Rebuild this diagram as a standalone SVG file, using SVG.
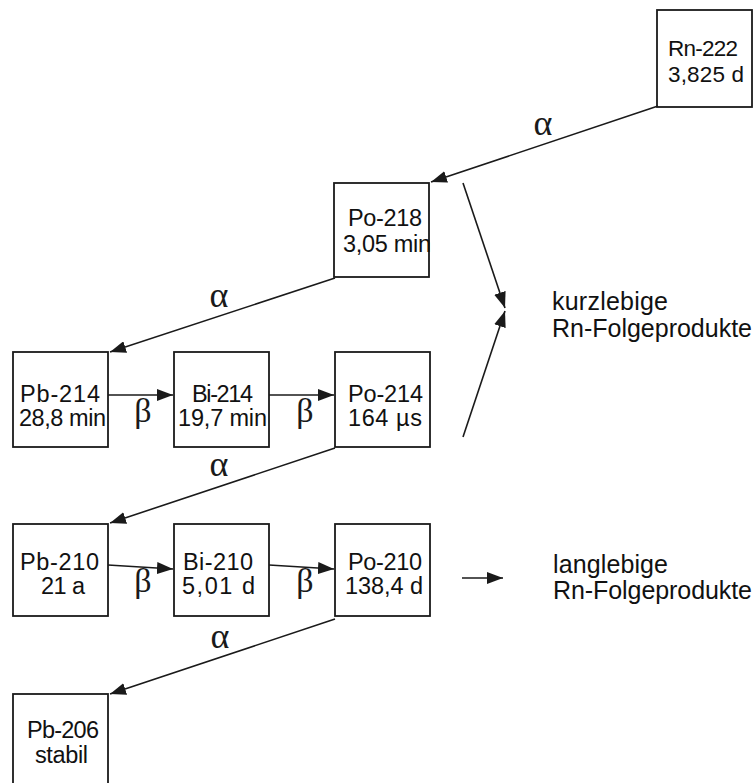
<svg xmlns="http://www.w3.org/2000/svg" width="755" height="783" viewBox="0 0 755 783">
<style>
.box{fill:none;stroke:#1a1a1a;stroke-width:1.8}
.t{font-family:"Liberation Sans",Arial,sans-serif;font-size:23.5px;fill:#111111}
.r{font-family:"Liberation Sans",Arial,sans-serif;font-size:25px;fill:#111111}
.s{font-size:22.5px}
.ga{font-family:"Liberation Serif","Times New Roman",serif;font-size:36px;fill:#1a1a1a}
.gb{font-family:"Liberation Serif","Times New Roman",serif;font-size:34px;fill:#1a1a1a}
.ln{stroke:#1a1a1a;stroke-width:1.6;fill:none}
</style>
<defs>
<marker id="ah" viewBox="0 0 16 12" refX="16" refY="6" markerWidth="16" markerHeight="12" markerUnits="userSpaceOnUse" orient="auto">
<path d="M0,0 L16,6 L0,12 z" fill="#1a1a1a"/>
</marker>
</defs>
<rect width="755" height="783" fill="#ffffff"/>

<g id="connectors">
<line class="ln" x1="658" y1="106" x2="431" y2="182" marker-end="url(#ah)"/>
<line class="ln" x1="335" y1="278" x2="110" y2="352" marker-end="url(#ah)"/>
<line class="ln" x1="335" y1="448" x2="110" y2="523" marker-end="url(#ah)"/>
<line class="ln" x1="335" y1="619" x2="110" y2="694" marker-end="url(#ah)"/>
<line class="ln" x1="108" y1="395" x2="173" y2="395" marker-end="url(#ah)"/>
<line class="ln" x1="269" y1="395" x2="334" y2="395" marker-end="url(#ah)"/>
<line class="ln" x1="108" y1="565" x2="173" y2="569" marker-end="url(#ah)"/>
<line class="ln" x1="269" y1="565" x2="334" y2="569" marker-end="url(#ah)"/>
<line class="ln" x1="463" y1="183" x2="505" y2="308" marker-end="url(#ah)"/>
<line class="ln" x1="463" y1="437" x2="505" y2="311" marker-end="url(#ah)"/>
<line class="ln" x1="462" y1="578" x2="503" y2="578" marker-end="url(#ah)"/>
<text class="ga" x="543" y="135" text-anchor="middle" font-size="36">α</text>
<text class="ga" x="219" y="307" text-anchor="middle" font-size="36">α</text>
<text class="ga" x="219" y="476" text-anchor="middle" font-size="36">α</text>
<text class="ga" x="220" y="648" text-anchor="middle" font-size="36">α</text>
<text class="gb" x="143" y="422" text-anchor="middle" font-size="34">β</text>
<text class="gb" x="305" y="422" text-anchor="middle" font-size="34">β</text>
<text class="gb" x="143" y="592" text-anchor="middle" font-size="34">β</text>
<text class="gb" x="305" y="592" text-anchor="middle" font-size="34">β</text>
</g>

<g id="rn222">
<rect class="box" x="657" y="10" width="95" height="97"/>
<text class="t s" x="668" y="56" textLength="70">Rn-222</text>
<text class="t s" x="668" y="82" textLength="76">3,825 d</text>
</g>
<g id="po218">
<rect class="box" x="334" y="183" width="95" height="94"/>
<text class="t" x="348" y="226" textLength="74">Po-218</text>
<text class="t" x="343" y="252" textLength="88">3,05 min</text>
</g>
<g id="pb214">
<rect class="box" x="13" y="352" width="95" height="95"/>
<text class="t" x="20" y="402" textLength="80">Pb-214</text>
<text class="t" x="19" y="426" textLength="87">28,8 min</text>
</g>
<g id="bi214">
<rect class="box" x="174" y="352" width="95" height="95"/>
<text class="t" x="192" y="402" textLength="61">Bi-214</text>
<text class="t" x="178" y="426" textLength="89">19,7 min</text>
</g>
<g id="po214">
<rect class="box" x="335" y="352" width="95" height="95"/>
<text class="t" x="348" y="402" textLength="75">Po-214</text>
<text class="t" x="348" y="426" textLength="74">164 µs</text>
</g>
<g id="pb210">
<rect class="box" x="13" y="524" width="95" height="92"/>
<text class="t" x="20" y="570" textLength="79">Pb-210</text>
<text class="t" x="41" y="594" textLength="44">21 a</text>
</g>
<g id="bi210">
<rect class="box" x="174" y="524" width="95" height="92"/>
<text class="t" x="183" y="570" textLength="70">Bi-210</text>
<text class="t" x="182" y="594" textLength="73">5,01 d</text>
</g>
<g id="po210">
<rect class="box" x="335" y="524" width="95" height="92"/>
<text class="t" x="348" y="570" textLength="74">Po-210</text>
<text class="t" x="345" y="594" textLength="78">138,4 d</text>
</g>
<g id="pb206">
<rect class="box" x="13" y="694" width="95" height="100"/>
<text class="t" x="27" y="738" textLength="72">Pb-206</text>
<text class="t" x="35" y="763" textLength="53">stabil</text>
</g>
<g id="kurzlebige">
<text class="r" x="552" y="310" textLength="116">kurzlebige</text>
<text class="r" x="552" y="337" textLength="200">Rn-Folgeprodukte</text>
</g>
<g id="langlebige">
<text class="r" x="553" y="573" textLength="115">langlebige</text>
<text class="r" x="553" y="599" textLength="199">Rn-Folgeprodukte</text>
</g>
</svg>
